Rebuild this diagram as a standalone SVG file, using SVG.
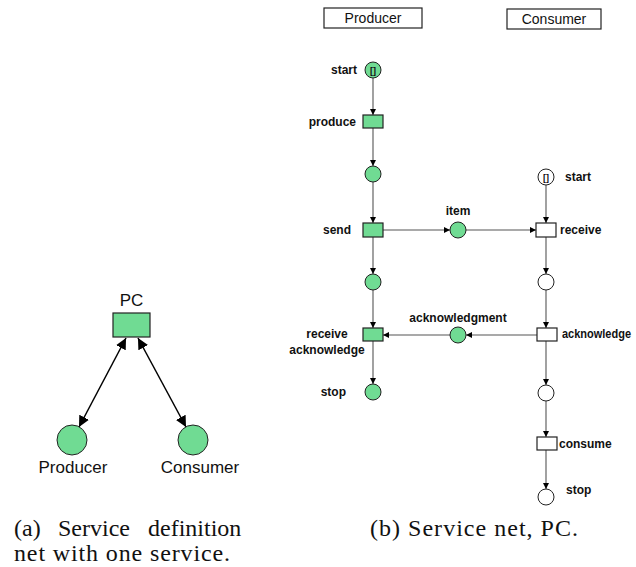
<svg xmlns="http://www.w3.org/2000/svg" width="636" height="567" viewBox="0 0 636 567">
  <style>
    .place { fill: #70db93; stroke: #222; stroke-width: 1; }
    .place-w { fill: #fff; stroke: #222; stroke-width: 1; }
    .trans { fill: #70db93; stroke: #222; stroke-width: 1.2; }
    .trans-w { fill: #fff; stroke: #222; stroke-width: 1.2; }
    .arc { stroke: #555; stroke-width: 1.1; fill: none; marker-end: url(#tip); }
    .dbl { stroke: #000; stroke-width: 1.5; fill: none; marker-start: url(#big); marker-end: url(#big); }
    .lbl { font-family: "Liberation Sans", Arial, sans-serif; font-weight: bold; font-size: 12px; fill: #111; }
    .hdr { font-family: "Liberation Sans", Arial, sans-serif; font-size: 14px; fill: #111; }
    .big { font-family: "Liberation Sans", Arial, sans-serif; font-size: 17px; fill: #111; }
    .tok { font-family: "Liberation Sans", Arial, sans-serif; font-weight: bold; font-size: 9px; fill: #111; }
    .cap { font-family: "Liberation Serif", "Times New Roman", serif; font-size: 24px; fill: #111; }
    .box { fill: #fff; stroke: #222; stroke-width: 1.2; }
  </style>
  <defs>
    <marker id="tip" viewBox="0 0 6 6" refX="6" refY="3" markerWidth="6" markerHeight="6" markerUnits="userSpaceOnUse" orient="auto">
      <path d="M0,0 L6,3 L0,6 Z" fill="#000"/>
    </marker>
    <marker id="big" viewBox="0 0 10 10" refX="10" refY="5" markerWidth="11" markerHeight="11" markerUnits="userSpaceOnUse" orient="auto-start-reverse">
      <path d="M0,0 L10,5 L0,10 Z" fill="#000"/>
    </marker>
  </defs>

  <!-- (a) service definition net -->
  <g id="a-connectors">
    <line class="dbl" x1="79" y1="427" x2="126" y2="338"/>
    <line class="dbl" x1="138" y1="338" x2="186" y2="427"/>
  </g>
  <g id="a-pc">
    <rect class="trans" x="113" y="313" width="37" height="24"/>
    <text class="big" x="131.5" y="306" text-anchor="middle">PC</text>
  </g>
  <g id="a-producer">
    <circle class="place" cx="72" cy="440" r="15"/>
    <text class="big" x="73" y="473" text-anchor="middle">Producer</text>
  </g>
  <g id="a-consumer">
    <circle class="place" cx="193" cy="440" r="15"/>
    <text class="big" x="200" y="473" text-anchor="middle">Consumer</text>
  </g>

  <!-- (b) service net -->
  <g id="hdr-producer">
    <rect class="box" x="324" y="8" width="98" height="20"/>
    <text class="hdr" x="373" y="23" text-anchor="middle">Producer</text>
  </g>
  <g id="hdr-consumer">
    <rect class="box" x="507" y="9" width="94" height="20"/>
    <text class="hdr" x="554" y="24" text-anchor="middle">Consumer</text>
  </g>

  <g id="b-connectors">
    <line class="arc" x1="373" y1="78" x2="373" y2="115"/>
    <line class="arc" x1="373" y1="128" x2="373" y2="166"/>
    <line class="arc" x1="373" y1="182" x2="373" y2="223"/>
    <line class="arc" x1="383" y1="230" x2="450" y2="230"/>
    <line class="arc" x1="466" y1="230" x2="536" y2="230"/>
    <line class="arc" x1="546" y1="185" x2="546" y2="223"/>
    <line class="arc" x1="373" y1="237" x2="373" y2="274"/>
    <line class="arc" x1="546" y1="237" x2="546" y2="274"/>
    <line class="arc" x1="373" y1="290" x2="373" y2="328"/>
    <line class="arc" x1="546" y1="290" x2="546" y2="328"/>
    <line class="arc" x1="537" y1="335" x2="466" y2="335"/>
    <line class="arc" x1="450" y1="335" x2="383" y2="335"/>
    <line class="arc" x1="373" y1="341" x2="373" y2="384"/>
    <line class="arc" x1="546" y1="341" x2="546" y2="385"/>
    <line class="arc" x1="546" y1="401" x2="546" y2="437"/>
    <line class="arc" x1="546" y1="450" x2="546" y2="489"/>
  </g>

  <g id="p-start">
    <circle class="place" cx="373" cy="70" r="8"/>
    <text class="tok" x="373" y="73.5" text-anchor="middle">[]</text>
    <text class="lbl" x="357" y="74" text-anchor="end">start</text>
  </g>
  <g id="t-produce">
    <rect class="trans" x="363" y="115" width="20" height="13"/>
    <text class="lbl" x="356" y="126" text-anchor="end">produce</text>
  </g>
  <g id="p-produced">
    <circle class="place" cx="373" cy="174" r="8"/>
  </g>
  <g id="t-send">
    <rect class="trans" x="363" y="223" width="20" height="14"/>
    <text class="lbl" x="351" y="234" text-anchor="end">send</text>
  </g>
  <g id="p-item">
    <circle class="place" cx="458" cy="230" r="8"/>
    <text class="lbl" x="458" y="215" text-anchor="middle">item</text>
  </g>
  <g id="c-start">
    <circle class="place-w" cx="546" cy="177" r="8"/>
    <text class="tok" x="546" y="180.5" text-anchor="middle">[]</text>
    <text class="lbl" x="565" y="181">start</text>
  </g>
  <g id="t-receive">
    <rect class="trans-w" x="536" y="223" width="20" height="14"/>
    <text class="lbl" x="560" y="234">receive</text>
  </g>
  <g id="p-waiting">
    <circle class="place" cx="373" cy="282" r="8"/>
  </g>
  <g id="c-received">
    <circle class="place-w" cx="546" cy="282" r="8"/>
  </g>
  <g id="t-receive-ack">
    <rect class="trans" x="363" y="328" width="20" height="13"/>
    <text class="lbl" x="327" y="338" text-anchor="middle">receive</text>
    <text class="lbl" x="327" y="354" text-anchor="middle">acknowledge</text>
  </g>
  <g id="p-acknowledgment">
    <circle class="place" cx="458" cy="335" r="8"/>
    <text class="lbl" x="458" y="322" text-anchor="middle">acknowledgment</text>
  </g>
  <g id="t-acknowledge">
    <rect class="trans-w" x="537" y="328" width="20" height="13"/>
    <text class="lbl" x="562" y="338" textLength="69" lengthAdjust="spacingAndGlyphs">acknowledge</text>
  </g>
  <g id="p-stop">
    <circle class="place" cx="373" cy="392" r="8"/>
    <text class="lbl" x="346" y="396" text-anchor="end">stop</text>
  </g>
  <g id="c-acked">
    <circle class="place-w" cx="546" cy="393" r="8"/>
  </g>
  <g id="t-consume">
    <rect class="trans-w" x="537" y="437" width="20" height="13"/>
    <text class="lbl" x="559" y="448">consume</text>
  </g>
  <g id="c-stop">
    <circle class="place-w" cx="546" cy="497" r="8"/>
    <text class="lbl" x="566" y="494">stop</text>
  </g>

  <!-- captions -->
  <text class="cap" y="536"><tspan x="14">(a)</tspan><tspan x="58">Service</tspan><tspan x="148">definition</tspan></text>
  <text class="cap" x="14" y="561" textLength="216" lengthAdjust="spacing">net with one service.</text>
  <text class="cap" x="370" y="536" textLength="208" lengthAdjust="spacing">(b) Service net, PC.</text>
</svg>
